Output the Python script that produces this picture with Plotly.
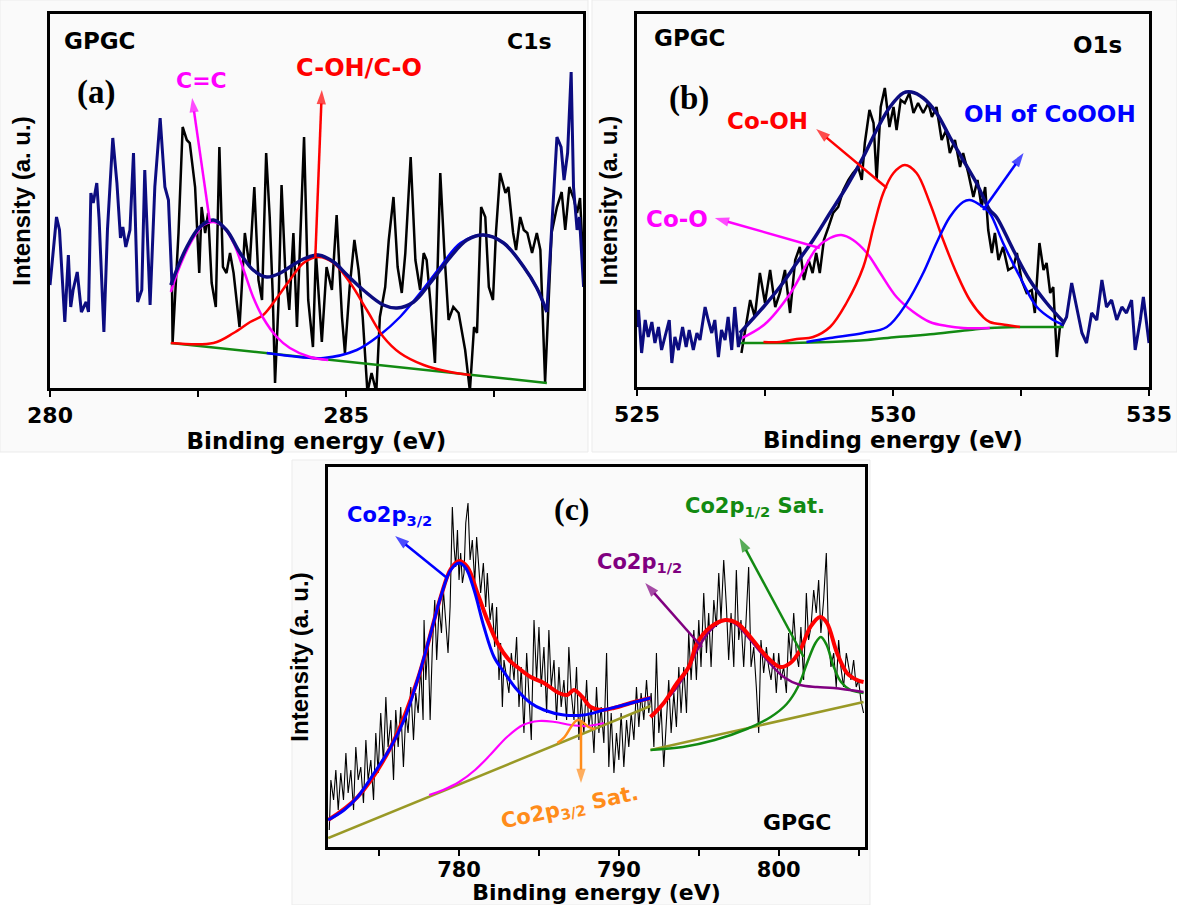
import plotly.graph_objects as go

# ---------------- Panel (a) C1s ----------------
a_left_x = [280.00,280.11,280.16,280.25,280.31,280.35,280.39,280.46,280.53,280.61,280.65,280.69,280.73,280.79,280.83,280.91,280.97,281.06,281.13,281.19,281.23,281.28,281.35,281.41,281.48,281.55,281.60,281.69,281.77,281.86,281.94,282.00,282.06]
a_left_y = [103,171,158,66,133,81,98,116,76,86,76,195,185,205,168,56,158,250,205,150,161,141,158,235,86,98,218,83,201,270,201,188,103]

a_raw_x = [282.06,282.07,282.17,282.24,282.31,282.36,282.45,282.52,282.56,282.62,
           282.67,282.73,282.80,282.86,282.92,282.98,283.04,283.10,283.20,283.29,
           283.37,283.45,283.52,283.58,283.65,283.71,283.76,283.80,283.86,283.91,
           283.97,284.04,284.11,284.17,
           284.29,284.36,284.44,284.49,284.59,284.67,284.76,284.84,284.93,284.98,
           285.06,285.14,285.21,285.28,285.36,285.43,285.51,285.57,285.66,285.72,
           285.80,285.87,285.94,286.00,286.09,286.17,286.25,286.31,286.36,286.42,
           286.50,286.59,286.66,286.73,286.81,286.90,287.01,287.09,287.16,287.21,
           287.28,287.35,287.41,287.48,287.53,287.60,287.69,287.74,287.82,287.87,
           287.94,288.00,288.06,288.14,288.22,288.28,288.36,
           288.47,288.56,288.64,288.70,288.77,288.84,288.90,288.95,289.00]
a_raw_y = [103,45,155,261,248,245,201,115,181,155,
           175,105,81,241,121,115,135,115,61,155,
           121,201,108,88,235,171,95,5,88,203,
           121,78,155,61,
           251,88,41,135,46,121,98,173,71,35,
           101,148,118,71,-4,15,-4,71,101,148,
           191,121,95,135,231,128,98,135,128,88,
           25,215,135,68,81,75,38,-3,61,55,
           181,171,101,88,155,215,195,201,155,138,
           171,158,155,135,155,138,6,
           155,181,196,158,201,190,175,190,130]

a_right_x = [288.39,288.47,288.56,288.63,288.68,288.74,288.80,288.84,288.90,288.94,289.01]
a_right_y = [76,155,251,241,208,235,316,201,158,171,101]

a_env_x = [282.04,282.31,282.53,282.76,282.98,283.21,283.43,283.66,283.89,284.05,284.28,284.53,284.79,285.00,285.29,285.63,285.86,286.14,286.42,286.76,287.04,287.32,287.66,288.00,288.22,288.39]
a_env_y = [103,141,161,168,158,135,118,111,115,121,129,133,126,114,98,83,80,86,105,131,148,153,145,121,100,76]

a_cc_x = [282.04,282.20,282.42,282.59,282.76,282.93,283.10,283.27,283.43,283.60,283.83,284.05,284.39,284.70]
a_cc_y = [96,123,150,163,166,161,145,118,91,70,51,40,31,28]

a_coh_x = [282.04,282.76,283.10,283.38,283.60,283.83,284.05,284.28,284.53,284.79,285.07,285.35,285.63,285.91,286.31,286.76,287.10]
a_coh_y = [45,45,55,66,73,90,108,125,131,125,105,78,51,35,23,16,13]

a_p3_x = [283.66,284.05,284.62,285.18,285.57,285.91,286.25,286.59,286.93,287.32,287.66,288.00,288.22,288.39]
a_p3_y = [35,32,30,38,53,71,95,121,145,153,145,121,100,76]

a_base_x = [282.04, 288.39]
a_base_y = [45, 5]

# ---------------- Panel (b) O1s ----------------
b_left_x = [525.00,525.03,525.09,525.16,525.22,525.29,525.35,525.42,525.48,525.55,525.63,525.68,525.74,525.81,525.89,525.96,526.02,526.10,526.17,526.23,
            526.33,526.39,526.46,526.52,526.59,526.65,526.72,526.78,526.85,526.91,526.98,527.04]
b_left_y = [60,77,34,67,50,65,44,60,37,50,67,24,50,37,60,40,57,37,54,47,
            80,67,54,67,30,57,47,70,37,80,40,54]

b_raw_x = [527.04,527.11,527.21,527.30,527.40,527.50,527.60,527.70,527.79,527.89,
           527.99,528.09,528.18,528.26,528.35,528.43,528.50,528.57,528.65,528.74,
           528.83,528.93,529.03,529.13,529.22,529.32,529.39,529.45,529.54,529.62,
           529.68,529.76,529.84,529.93,530.01,530.07,530.15,530.23,530.32,530.40,
           530.49,530.59,530.69,530.76,530.85,530.95,531.04,531.11,531.21,531.31,
           531.37,531.47,531.57,531.65,531.73,531.80,531.86,531.93,531.99,532.06,
           532.15,532.25,532.35,532.42,532.51,532.61,532.71,532.77,532.86,532.94,
           533.00,533.07,533.13,533.20,533.26,533.33]
b_raw_y = [34,57,87,70,114,84,117,80,94,117,
           74,127,140,107,127,114,134,114,147,160,
           174,180,197,207,214,220,207,244,277,264,
           207,280,299,260,280,257,287,284,294,274,
           284,274,284,270,280,247,257,234,247,220,
           234,214,190,207,180,200,157,134,154,127,
           140,117,120,134,107,94,97,74,144,117,
           124,94,100,30,60,62]

b_right_x = [533.31,533.39,533.49,533.59,533.69,533.78,533.88,533.98,534.08,534.17,534.27,534.37,534.47,534.56,534.66,534.73,534.83,534.89,534.95,535.00]
b_right_y = [62,70,104,80,54,44,74,67,107,80,87,67,80,74,87,37,67,90,67,44]

b_env_x = [527.01,527.47,527.79,528.12,528.44,528.77,529.09,529.42,529.68,529.94,530.20,530.36,530.59,530.85,531.11,531.37,531.63,531.89,532.02,532.35,532.67,533.00,533.33]
b_env_y = [54,80,100,124,147,174,200,230,257,280,294,295,289,274,250,227,204,177,170,137,107,84,65]

b_coo_x = [527.01,527.50,528.00,528.51,528.77,528.99,529.22,529.49,529.75,530.07,530.40,530.72,531.05,531.37,531.89]
b_coo_y = [48,63,94,139,149,152,147,134,114,90,75,65,61,59,59]

b_cooh_x = [527.47,527.79,528.12,528.44,528.77,529.09,529.42,529.62,529.81,530.01,530.23,530.46,530.72,530.98,531.24,531.50,531.76,531.89,532.22,532.48]
b_cooh_y = [45,45,48,50,60,84,120,160,194,214,222,214,184,147,114,87,70,65,62,60]

b_oh_x = [528.31,528.77,529.42,529.88,530.27,530.59,530.85,531.11,531.37,531.50,531.76,531.89,532.15,532.48,532.81,533.13,533.33]
b_oh_y = [45,49,54,60,84,114,144,170,185,187,180,174,144,110,80,67,62]

b_base_x = [527.01,528.00,528.77,529.50,530.07,530.80,531.50,531.89,532.50,533.33]
b_base_y = [44,44,45,47,50,53,57,59,60,60]

# ---------------- Panel (c) Co2p ----------------
c_raw_x = [771.88,771.98,772.15,772.29,772.44,772.60,772.77,772.92,773.06,773.23,
           773.40,773.54,773.69,773.85,774.02,774.17,774.31,774.48,774.65,774.79,
           774.94,775.10,775.27,775.42,775.56,775.73,775.90,776.04,776.19,776.35,
           776.52,776.67,776.81,776.98,777.15,777.29,777.44,777.60,777.75,777.81,
           777.92,778.06,778.19,778.33,778.48,778.60,778.75,778.90,779.02,779.17,
           779.31,779.44,779.58,779.69,779.79,779.90,780.00,780.10,780.21,780.31,
           780.42,780.56,780.69,780.83,780.98,781.10,781.25,781.35,781.52,781.67,
           781.77,781.94,782.08,782.23,782.35,782.50,782.60,782.71,782.81,782.98,
           783.12,783.27,783.44,783.60,783.75,783.89,784.06,784.23,784.37,784.52,
           784.69,784.85,785.00,785.14,785.31,785.48,785.62,785.77,785.94,786.10,
           786.25,786.39,786.56,786.73,786.87,787.02,787.19,787.35,787.50,787.64,
           787.81,787.98,788.12,788.27,788.44,788.60,788.75,788.89,789.06,789.23,
           789.37,789.52,789.69,789.85,790.00,790.14,790.31,790.48,790.62,790.77,
           790.94,791.10,791.25,791.39,791.56,791.73,791.87,792.02,792.19,792.35,
           792.50,792.64,792.81,792.98,793.12,793.27,793.44,793.60,793.75,793.89,
           794.06,794.23,794.37,794.52,794.69,794.85,795.00,795.14,795.31,795.48,
           795.62,795.77,795.94,796.10,796.25,796.39,796.56,796.73,796.87,797.02,
           797.19,797.35,797.50,797.64,797.81,797.98,798.12,798.27,798.44,798.60,
           798.75,798.89,799.06,799.23,799.37,799.52,799.69,799.85,800.00,800.14,
           800.31,800.48,800.62,800.77,800.94,801.10,801.25,801.39,801.56,801.73,
           801.87,802.02,802.19,802.35,802.50,802.64,802.81,802.98,803.12,803.27,
           803.44,803.60,803.75,803.89,804.06,804.23,804.37,804.52,804.69,804.85,
           805.00,805.14,805.31]
c_raw_y = [17,67,47,77,37,74,47,94,54,77,
           37,100,67,80,44,107,67,87,47,114,
           74,134,84,150,100,127,67,137,100,140,
           80,134,114,160,107,154,134,180,127,227,
           167,207,127,200,247,187,240,214,257,227,
           194,240,340,300,280,317,267,294,264,274,
           324,344,287,307,264,310,274,254,284,240,
           274,227,244,200,240,167,204,140,187,167,
           154,194,167,210,140,180,114,194,150,107,
           227,167,220,160,200,134,217,160,187,127,
           180,140,167,127,200,154,127,180,107,150,
           114,167,120,140,94,160,114,140,104,194,
           80,134,74,114,87,134,80,127,100,134,
           107,160,120,154,127,167,134,154,100,194,
           114,140,80,127,167,114,154,120,180,134,
           180,134,214,167,217,167,227,180,254,194,
           234,180,247,220,274,227,287,240,187,234,
           180,277,207,227,180,234,280,180,200,160,
           114,207,174,200,180,167,194,154,194,167,
           180,154,214,187,234,194,180,220,167,254,
           207,220,257,234,267,214,247,294,207,180,
           194,160,207,180,160,194,180,167,187,160,
           167,147,134]

c_base1_x = [771.81, 791.98]
c_base1_y = [9, 141]
c_base2_x = [791.98, 805.31]
c_base2_y = [97, 145]

c_p32_x = [771.81,772.81,773.65,774.69,775.73,776.56,777.40,778.23,778.85,779.48,780.00,780.42,780.94,781.56,782.19,782.81,783.64,784.48,785.31,786.56,787.81,789.06,790.31,791.98]
c_p32_y = [27,37,50,74,100,127,167,214,250,277,284,279,257,220,190,175,157,144,137,132,132,137,142,149]

c_env1_x = [771.81,773.65,775.73,777.40,778.85,779.48,780.00,780.52,781.15,781.77,782.40,783.13,783.64,784.48,785.31,786.25,786.77,787.19,787.71,788.23,788.85,789.69,790.73,791.98]
c_env1_y = [27,50,100,167,250,278,286,280,254,227,204,187,180,170,164,154,152,157,150,140,137,139,144,149]

c_env2_x = [791.98,792.81,793.64,794.37,794.90,795.73,796.66,797.39,798.23,799.27,800.10,800.73,801.35,801.98,802.60,803.02,803.65,804.27,804.90,805.31]
c_env2_y = [130,144,164,180,204,220,227,224,210,190,180,184,197,220,230,224,194,174,167,165]

c_p12_x = [791.98,792.81,793.64,794.37,794.90,795.73,796.66,797.39,798.23,799.27,800.31,801.35,802.40,803.44,805.31]
c_p12_y = [130,144,160,179,197,217,227,222,207,187,170,162,160,159,155]

c_sat12_x = [791.98,794.00,796.00,798.00,799.50,800.50,801.20,801.80,802.30,802.64,803.00,803.40,803.90,804.50,805.31]
c_sat12_y = [97,100,107,118,130,143,160,185,204,210,202,182,165,157,154]

c_sat32a_x = [778.13,779.00,780.00,781.00,782.00,783.00,784.00,785.00,786.00,787.00,788.00,789.06]
c_sat32a_y = [52,57,65,77,93,110,122,126,125,122,121,124]

c_sat32b_x = [786.15,786.60,787.00,787.30,787.50,787.80,788.10,788.50]
c_sat32b_y = [104,110,120,126,127,124,120,118]

# ---------------- styling ----------------
W, H = 1177, 905
SANS = "DejaVu Sans"
SERIF = "Liberation Serif"
NAVY = "#0c0c80"
BLUE = "#0000ff"
RED = "#ff0000"
MAG = "#ff00ff"
GREEN = "#128a12"
OLIVE = "#999926"
PURPLE = "#800080"
ORANGE = "#ff8c1a"

fig = go.Figure()

def line(x, y, color, width, xa, ya, spline=False):
    fig.add_trace(go.Scatter(x=x, y=y, mode="lines", xaxis=xa, yaxis=ya,
                             line=dict(color=color, width=width,
                                       shape="spline" if spline else "linear",
                                       smoothing=1.0),
                             showlegend=False, hoverinfo="skip"))

def arrow(tx, ty, hx, hy, color, xa, ya):
    fig.add_trace(go.Scatter(x=[tx, hx], y=[ty, hy], mode="lines+markers",
                             xaxis=xa, yaxis=ya,
                             line=dict(color=color, width=2.5),
                             marker=dict(symbol="arrow", size=[0, 15], color=color,
                                         angleref="previous", line=dict(width=0)),
                             showlegend=False, hoverinfo="skip"))

# panel a
line(a_raw_x, a_raw_y, "black", 2.5, "x", "y")
line(a_base_x, a_base_y, GREEN, 2.5, "x", "y")
line(a_p3_x, a_p3_y, BLUE, 2.5, "x", "y", True)
line(a_coh_x, a_coh_y, RED, 2.5, "x", "y", True)
line(a_cc_x, a_cc_y, MAG, 2.5, "x", "y", True)
line(a_env_x, a_env_y, NAVY, 3.5, "x", "y", True)
line(a_left_x, a_left_y, NAVY, 3, "x", "y")
line(a_right_x, a_right_y, NAVY, 3, "x", "y")
arrow(282.70, 166, 282.40, 290, MAG, "x", "y")
arrow(284.48, 131, 284.59, 298, RED, "x", "y")

# panel b
line(b_raw_x, b_raw_y, "black", 2.5, "x2", "y2")
line(b_base_x, b_base_y, GREEN, 2.5, "x2", "y2", True)
line(b_coo_x, b_coo_y, MAG, 2.5, "x2", "y2", True)
line(b_cooh_x, b_cooh_y, RED, 2.5, "x2", "y2", True)
line(b_oh_x, b_oh_y, BLUE, 2.5, "x2", "y2", True)
line(b_env_x, b_env_y, NAVY, 3.5, "x2", "y2", True)
line(b_left_x, b_left_y, NAVY, 3, "x2", "y2")
line(b_right_x, b_right_y, NAVY, 3, "x2", "y2")
arrow(529.88, 199, 528.50, 258, RED, "x2", "y2")
arrow(528.57, 139, 526.52, 169, MAG, "x2", "y2")
arrow(531.76, 177, 532.55, 234, BLUE, "x2", "y2")

# panel c
line(c_raw_x, c_raw_y, "black", 1.1, "x3", "y3")
line(c_base1_x, c_base1_y, OLIVE, 2.5, "x3", "y3")
line(c_base2_x, c_base2_y, OLIVE, 2.5, "x3", "y3")
line(c_sat32a_x, c_sat32a_y, MAG, 2.2, "x3", "y3", True)
line(c_sat32b_x, c_sat32b_y, ORANGE, 2.5, "x3", "y3", True)
line(c_sat12_x, c_sat12_y, GREEN, 2.5, "x3", "y3", True)
line(c_p12_x, c_p12_y, PURPLE, 2.5, "x3", "y3", True)
line(c_env1_x, c_env1_y, RED, 4, "x3", "y3", True)
line(c_env2_x, c_env2_y, RED, 4, "x3", "y3", True)
line(c_p32_x, c_p32_y, BLUE, 3, "x3", "y3", True)
arrow(779.25, 269, 776.00, 311, BLUE, "x3", "y3")
arrow(795.19, 200, 791.65, 264, PURPLE, "x3", "y3")
arrow(801.56, 190, 797.55, 309, GREEN, "x3", "y3")
arrow(787.63, 127, 787.63, 64, ORANGE, "x3", "y3")

tickfont = dict(family=SANS, size=22, color="black", weight="bold")
xtitlefont = dict(family=SANS, size=23, color="black", weight="bold")
ytitlefont = dict(family="Liberation Sans", size=24, color="black", weight="bold")

def xax(dom, rng, t0, dt, mt0, mdt, standoff, tls=0, tsize=22, ttsize=23):
    return dict(domain=dom, range=rng, showline=True, mirror=True, linecolor="black",
                linewidth=2.5, ticks="outside", ticklen=6, tickwidth=2, tickcolor="black",
                tick0=t0, dtick=dt, tickfont=dict(tickfont, size=tsize),
                ticklabelstandoff=tls, showgrid=False, zeroline=False, automargin=False,
                minor=dict(tick0=mt0, dtick=mdt, ticks="outside", ticklen=6, tickwidth=2,
                           tickcolor="black", showgrid=False),
                title=dict(text="Binding energy (eV)", font=dict(xtitlefont, size=ttsize),
                           standoff=standoff))

def yax(dom, rng, anchor, standoff):
    return dict(domain=dom, range=rng, anchor=anchor, showline=True, mirror=True,
                linecolor="black", linewidth=2.5, ticks="", showticklabels=False,
                showgrid=False, zeroline=False, automargin=False,
                title=dict(text="Intensity (a. u.)", font=ytitlefont, standoff=standoff))

fig.update_layout(
    width=W, height=H, margin=dict(l=0, r=0, t=0, b=0, autoexpand=False),
    paper_bgcolor="white", plot_bgcolor="rgba(0,0,0,0)",
    xaxis=dict(xax([50/W, 583/W], [280, 289], 280, 5, 280, 2.5, 6), anchor="y"),
    yaxis=yax([1-388/H, 1-14/H], [0, 374], "x", 10),
    xaxis2=dict(xax([637/W, 1149/W], [525, 535], 525, 5, 525, 2.5, 6), anchor="y2"),
    yaxis2=yax([1-387/H, 1-14/H], [0, 373], "x2", 10),
    xaxis3=dict(xax([328/W, 865/W], [771.8, 805.4], 780, 10, 775, 5, 4, -4, 21, 22), anchor="y3"),
    yaxis3=yax([1-847/H, 1-467/H], [0, 380], "x3", 10),
)

# faint image-block backgrounds
for (x0, y0, x1, y1) in [(0, 0, 588, 452), (592, 0, 1177, 452), (292, 460, 870, 905)]:
    fig.add_shape(type="rect", xref="paper", yref="paper", x0=x0/W, x1=x1/W,
                  y0=1-y1/H, y1=1-y0/H, fillcolor="#fafafa",
                  line=dict(color="#ebebeb", width=1), layer="below")

ann = []
def label(x, y, text, color, size, xr, yr, family=SANS, angle=0):
    ann.append(dict(x=x, y=y, xref=xr, yref=yr, text=text, showarrow=False,
                    font=dict(family=family, size=size, color=color, weight="bold"),
                    xanchor="center", yanchor="middle", textangle=angle))

# panel a labels
label(280.84, 347, "GPGC", "black", 23, "x", "y")
label(280.78, 296, "(a)", "black", 33, "x", "y", SERIF)
label(282.55, 308, "C=C", MAG, 22, "x", "y")
label(285.22, 320, "C-OH/C-O", RED, 24, "x", "y")
label(288.09, 347, "C1s", "black", 22, "x", "y")

# panel b labels
label(526.04, 349, "GPGC", "black", 23, "x2", "y2")
label(526.02, 289, "(b)", "black", 33, "x2", "y2", SERIF)
label(527.54, 266, "Co-OH", RED, 23, "x2", "y2")
label(525.78, 168, "Co-O", MAG, 23, "x2", "y2")
label(533.07, 273, "OH of CoOOH", BLUE, 23, "x2", "y2")
label(534.00, 342, "O1s", "black", 23, "x2", "y2")

# panel c labels
label(775.63, 331, "Co2p<sub>3/2</sub>", BLUE, 21, "x3", "y3")
label(787.06, 338, "(c)", "black", 32, "x3", "y3", SERIF)
label(791.31, 284, "Co2p<sub>1/2</sub>", PURPLE, 21, "x3", "y3")
label(798.50, 340, "Co2p<sub>1/2</sub> Sat.", GREEN, 21, "x3", "y3")
label(786.94, 39, "Co2p<sub>3/2</sub> Sat.", ORANGE, 21, "x3", "y3", SANS, -12)
label(801.13, 25, "GPGC", "black", 22, "x3", "y3")

fig.update_layout(annotations=ann)
fig.write_html("out.html")
